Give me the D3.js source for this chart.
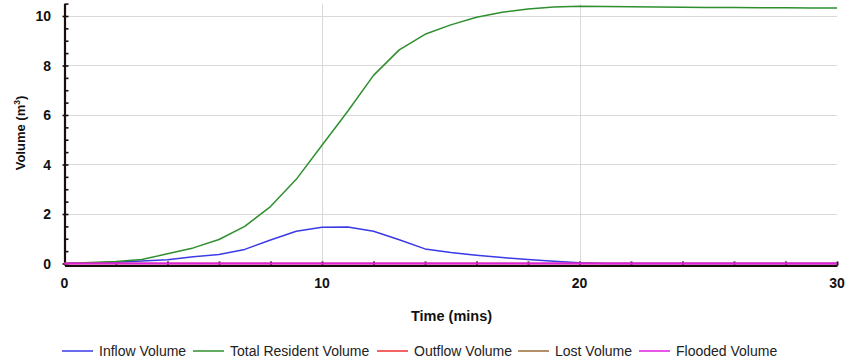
<!DOCTYPE html>
<html>
<head>
<meta charset="utf-8">
<script src="https://cdn.jsdelivr.net/npm/d3@7"></script>
<style>
  html, body { margin: 0; padding: 0; background: #fff; }
  svg { display: block; font-family: "Liberation Sans", Arial, sans-serif; }
</style>
</head>
<body>
<svg id="chart" width="848" height="363"></svg>
<script>
// Simulation time (mins), one sample per minute
const timeMins = d3.range(0, 31);

// Volumes (m³) per minute
const inflowVolume = [0, 0.02, 0.05, 0.1, 0.15, 0.27, 0.36, 0.57, 0.95, 1.3, 1.46, 1.47, 1.3, 0.96, 0.59, 0.44, 0.33, 0.24, 0.16, 0.09, 0.03,
  0, 0, 0, 0, 0, 0, 0, 0, 0, 0];
const totalResidentVolume = [0, 0.04, 0.08, 0.16, 0.39, 0.63, 0.97, 1.5, 2.3, 3.4, 4.78, 6.15, 7.6, 8.63, 9.26, 9.64, 9.95, 10.15, 10.28, 10.36, 10.39,
  10.38, 10.37, 10.36, 10.35, 10.34, 10.34, 10.33, 10.33, 10.32, 10.32];
const outflowVolume = timeMins.map(() => 0);
const lostVolume = timeMins.map(() => 0);
const floodedVolume = timeMins.map(() => 0);

const seriesNames = ["Inflow Volume", "Total Resident Volume", "Outflow Volume", "Lost Volume", "Flooded Volume"];
const seriesValues = [inflowVolume, totalResidentVolume, outflowVolume, lostVolume, floodedVolume];
const seriesColors = ["#3a3ae8", "#2f8f2f", "#f03030", "#9a6a3a", "#e020e0"];

const xMajorTicks = [0, 10, 20, 30];
const xMinorTicks = d3.range(0, 31, 2);
const yMajorTicks = [0, 2, 4, 6, 8, 10];
const yMinorTicks = d3.range(0, 10.51, 0.5);

const svg = d3.select("#chart");
const x = d3.scaleLinear().domain([0, 30]).range([64.5, 837]);
const y = d3.scaleLinear().domain([0, 10.5]).range([263.5, 3.6]);

// Grid lines
svg.append("g").selectAll("line").data(yMajorTicks.filter(d => d > 0)).join("line")
  .attr("x1", x(0)).attr("x2", x(30))
  .attr("y1", d => Math.round(y(d)) + 0.5).attr("y2", d => Math.round(y(d)) + 0.5)
  .attr("stroke", "#d9d9d9").attr("stroke-width", 1);
svg.append("g").selectAll("line").data(xMajorTicks.filter(d => d > 0 && d < 30)).join("line")
  .attr("x1", d => Math.round(x(d)) + 0.5).attr("x2", d => Math.round(x(d)) + 0.5)
  .attr("y1", y(10.5)).attr("y2", y(0))
  .attr("stroke", "#d9d9d9").attr("stroke-width", 1);

// Axes: ticks point inward
const xAxisG = svg.append("g").attr("transform", `translate(0,${y(0) + 2})`);
xAxisG.call(d3.axisBottom(x).tickValues(xMinorTicks).tickSizeInner(-4).tickSizeOuter(0).tickFormat(""));
xAxisG.select(".domain").attr("stroke", "#1a0d0d").attr("stroke-width", 2.2);
xAxisG.selectAll(".tick line").attr("stroke", "#1a0d0d").attr("stroke-width", 2);

const yAxisG = svg.append("g").attr("transform", `translate(${x(0)},0)`);
yAxisG.call(d3.axisLeft(y).tickValues(yMinorTicks).tickSizeInner(-4).tickSizeOuter(0).tickFormat(""));
yAxisG.select(".domain").attr("stroke", "#1a0d0d").attr("stroke-width", 2.2);
yAxisG.selectAll(".tick line").attr("stroke", "#1a0d0d").attr("stroke-width", 1.6)
  .attr("x1", d => yMajorTicks.includes(d) ? -2 : 0);

// Tick labels
svg.append("g").selectAll("text").data(yMajorTicks).join("text")
  .attr("x", 51).attr("y", d => y(d)).attr("dy", "0.36em")
  .attr("text-anchor", "end").attr("font-size", 14).attr("font-weight", "bold").attr("fill", "#111")
  .text(d => d);
svg.append("g").selectAll("text").data(xMajorTicks).join("text")
  .attr("x", d => x(d)).attr("y", 288)
  .attr("text-anchor", "middle").attr("font-size", 14).attr("font-weight", "bold").attr("fill", "#111")
  .text(d => d);

// Axis titles
svg.append("text").attr("x", 451.5).attr("y", 321)
  .attr("text-anchor", "middle").attr("font-size", 14.5).attr("font-weight", "bold").attr("fill", "#111")
  .text("Time (mins)");
const yTitle = svg.append("text").attr("transform", "translate(24.5,133) rotate(-90)")
  .attr("text-anchor", "middle").attr("font-size", 13).attr("font-weight", "bold").attr("fill", "#111");
yTitle.append("tspan").text("Volume (m");
yTitle.append("tspan").attr("font-size", 8.5).attr("dy", -5).text("3");
yTitle.append("tspan").attr("dy", 5).text(")");

// Series lines, drawn in legend order (flooded volume ends up on top)
const line = d3.line().x((d, i) => x(timeMins[i])).y(d => y(d));
svg.append("g").selectAll("path").data(seriesValues).join("path")
  .attr("d", d => line(d))
  .attr("fill", "none")
  .attr("stroke", (d, i) => seriesColors[i])
  .attr("stroke-width", (d, i) => i === 4 ? 2 : 1.5)
  .attr("stroke-linejoin", "round");

// Legend
const legendX = [62, 193, 377, 518, 639];
const legend = svg.append("g").selectAll("g").data(seriesNames).join("g")
  .attr("transform", (d, i) => `translate(${legendX[i]},351)`);
legend.append("line").attr("x1", 0).attr("x2", 31).attr("y1", 0).attr("y2", 0)
  .attr("stroke", (d, i) => seriesColors[i]).attr("stroke-width", 1.5);
legend.append("text").attr("x", 37).attr("dy", "0.36em")
  .attr("font-size", 14).attr("fill", "#222").text(d => d);
</script>
</body>
</html>
